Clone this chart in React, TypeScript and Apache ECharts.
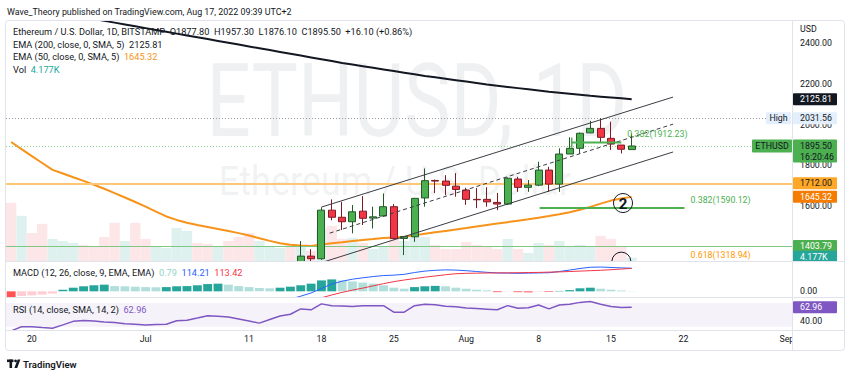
import React, { useEffect, useRef } from "react";
import * as echarts from "echarts";

const FONT = 'Roboto, "Noto Sans", "DejaVu Sans", sans-serif';
const INK = "#131722";

// ---------- categories (daily, crypto trades every day) ----------
const DATES = [
  "Jun 18","Jun 19","Jun 20","Jun 21","Jun 22","Jun 23","Jun 24","Jun 25","Jun 26","Jun 27","Jun 28","Jun 29","Jun 30",
  "Jul 1","Jul 2","Jul 3","Jul 4","Jul 5","Jul 6","Jul 7","Jul 8","Jul 9","Jul 10","Jul 11","Jul 12","Jul 13","Jul 14","Jul 15",
  "Jul 16","Jul 17","Jul 18","Jul 19","Jul 20","Jul 21","Jul 22","Jul 23","Jul 24","Jul 25","Jul 26","Jul 27","Jul 28","Jul 29","Jul 30","Jul 31",
  "Aug 1","Aug 2","Aug 3","Aug 4","Aug 5","Aug 6","Aug 7","Aug 8","Aug 9","Aug 10","Aug 11","Aug 12","Aug 13","Aug 14","Aug 15","Aug 16",
  "Aug 17","Aug 18","Aug 19","Aug 20","Aug 21","Aug 22","Aug 23","Aug 24","Aug 25","Aug 26","Aug 27","Aug 28","Aug 29","Aug 30","Aug 31",
  "Sep 1",
];
const TICK_LABELS: Record<string, string> = {
  "Jun 20": "20", "Jul 1": "Jul", "Jul 11": "11", "Jul 18": "18", "Jul 25": "25",
  "Aug 1": "Aug", "Aug 8": "8", "Aug 15": "15", "Aug 22": "22", "Sep 1": "Sep",
};

// ---------- price candles [open, close, low, high], from Jul 16 ----------
const FIRST_CANDLE = 28;
const CANDLES = [
  [1233, 1354, 1190, 1428],
  [1354, 1341, 1320, 1388],
  [1341, 1580, 1335, 1594],
  [1580, 1545, 1530, 1633],
  [1545, 1523, 1482, 1621],
  [1523, 1572, 1466, 1605],
  [1575, 1540, 1507, 1649],
  [1541, 1547, 1490, 1597],
  [1551, 1597, 1548, 1662],
  [1597, 1441, 1436, 1610],
  [1441, 1450, 1359, 1453],
  [1449, 1638, 1424, 1640],
  [1640, 1725, 1597, 1785],
  [1726, 1723, 1664, 1730],
  [1723, 1702, 1654, 1752],
  [1698, 1682, 1646, 1762],
  [1679, 1633, 1606, 1690],
  [1633, 1631, 1590, 1689],
  [1633, 1621, 1597, 1693],
  [1618, 1610, 1580, 1665],
  [1610, 1737, 1605, 1741],
  [1733, 1692, 1670, 1744],
  [1692, 1703, 1670, 1728],
  [1703, 1777, 1698, 1818],
  [1777, 1708, 1670, 1793],
  [1708, 1856, 1670, 1884],
  [1856, 1884, 1856, 1938],
  [1884, 1958, 1857, 1962],
  [1960, 1982, 1958, 2019],
  [1982, 1938, 1911, 2031.56],
  [1933, 1905, 1876, 2015],
  [1900, 1879.4, 1859, 1900],
  [1877.8, 1895.5, 1876.1, 1957.3],
];

// ---------- indicators ----------
const EMA200_FIRST = 8;
const EMA200 = [
  2520, 2511, 2502, 2493, 2484, 2475, 2466, 2457, 2448, 2439,
  2430, 2421, 2412, 2403, 2394, 2385, 2376, 2367, 2358, 2349,
  2340, 2331, 2322, 2313, 2304, 2296, 2288, 2280, 2272, 2264,
  2256, 2248, 2240, 2233, 2226, 2219, 2212, 2205, 2198, 2192,
  2186, 2180, 2174, 2168, 2162, 2157, 2152, 2147, 2142, 2138,
  2134, 2130, 2125.81,
];
const EMA50 = [
  1915, 1880, 1846, 1812, 1778, 1760, 1742, 1724, 1705, 1685,
  1664, 1642, 1620, 1597, 1573, 1549, 1532, 1518, 1507, 1497,
  1487, 1477, 1467, 1455, 1442, 1429, 1417, 1410, 1406, 1404,
  1411, 1417, 1422, 1428, 1433, 1438, 1443, 1446, 1449, 1456,
  1464, 1471, 1478, 1485, 1492, 1500, 1507, 1514, 1521, 1528,
  1535, 1543, 1551, 1560, 1570, 1582, 1596, 1612, 1627, 1637, 1645.32,
];
const VOLUME_K = [
  72.8, 56.5, 35.1, 46.4, 27.6, 25.1, 22.6, 20.1, 17.6, 30.1,
  47.7, 25.1, 47.7, 27.6, 17.6, 16.3, 41.4, 37.6, 22.6, 21.3,
  17.6, 25.1, 30.1, 35.1, 25.1, 18.8, 16.3, 20.1, 18.8, 12.5,
  40.2, 43.9, 27.6, 28.9, 22.6, 15.1, 18.8, 30.1, 25.1, 30.1,
  30.1, 20.1, 15.1, 15.1, 23.8, 20.1, 17.6, 15.1, 27.6, 15.1,
  10.0, 22.6, 20.1, 25.1, 18.8, 20.1, 17.6, 31.4, 27.6, 17.6, 4.177,
];
const VOLUME_UP = [
  0, 1, 0, 0, 1, 1, 1, 0, 0, 0,
  0, 1, 0, 0, 1, 1, 1, 1, 0, 0,
  1, 0, 0, 0, 1, 1, 1, 0, 1, 0,
  1, 0, 0, 1, 0, 1, 1, 0, 1, 1,
  1, 0, 0, 0, 0, 0, 0, 0, 1, 0,
  1, 1, 0, 1, 1, 1, 1, 0, 0, 0, 1,
];
const MACD_FIRST = 24;
const MACD_LINE = [
  -90, -70, -52, -38, -24, -8, 14, 36, 50, 60,
  67, 73, 78, 80, 84, 93, 100, 104, 106, 105,
  102, 98, 94, 91, 90, 89, 90, 91, 92, 98,
  105, 113, 119, 120, 118, 116, 114.21,
];
const SIGNAL_FIRST = 26;
const SIGNAL_LINE = [
  -80, -68, -58, -48, -32, -18, -5, 6, 16, 27,
  38, 48, 56, 63, 70, 76, 82, 87, 89, 90,
  90.5, 91, 91.5, 92, 93, 93.5, 95, 96, 98, 100,
  102, 104, 107, 110, 113.42,
];
const MACD_HIST = [
  -28, -23, -20, -16, -11, 8, 18, 25, 30, 33,
  26, 25, 23, 21, 20, 21, 25, 26, 30, 36,
  38, 33, 26, 21, 16, 15, 18, 23, 30, 38,
  54, 59, 54, 49, 43, 38, 30, 18, 13, 21,
  25, 27, 25, 18, 13, 8, 5, -4, -1, -4,
  -5, -2, -3, 2, 6, 15, 18, 13, 8, 4, 0.79,
];
const RSI = [
  23, 30, 30, 28.5, 27.5, 33, 39, 40.5, 39.5, 38,
  37, 35, 34, 33, 33.5, 34, 40, 41, 44.5, 48.5,
  47.5, 46.5, 43, 39.5, 36, 42, 48, 51, 60, 58.5,
  68.5, 65.5, 65, 64, 65.5, 65.5, 65.5, 54.5, 54.5, 65.5,
  68, 67, 64.5, 63.5, 61.5, 60.5, 59.5, 58.5, 65.5, 61,
  62, 66.5, 60, 66.5, 68, 71, 72.5, 68, 64, 62.5, 62.96,
];

// ---------- levels & drawings (day index, price) ----------
const HIGH_PRICE = 2031.56;
const LAST_CLOSE = 1895.5;
const EMA200_LAST = 2125.81;
const EMA50_LAST = 1645.32;
const LEVEL_ORANGE = 1712.0;
const LEVEL_GREEN = 1403.79;
const LAST_VOLUME_K = 4.177;
const RSI_LAST = 62.96;
const CHANNEL_UPPER = [[30, 1595], [64, 2136]];
const CHANNEL_MID = [[30.8, 1467], [64, 2003]];
const CHANNEL_LOWER = [[28, 1290], [64, 1866]];
const FIB_LEVELS = [
  { text: "0.382(1912.23)", price: 1912.23, from: 54.2, to: 59.0, color: "#4caf50", tick: true },
  { text: "0.382(1590.12)", price: 1590.12, from: 51.1, to: 65.1, color: "#4caf50", tick: false },
  { text: "0.618(1318.94)", price: 1318.94, from: 51.1, to: 65.1, color: "#ff9800", tick: false },
];
const WAVES = [
  { text: "2", day: 59.16, price: 1615 },
  { text: "", day: 59.0, price: 1327 },
];

const pad = (arr: any[], first: number, empty: any = "-") => Array(first).fill(empty).concat(arr);

function histColor(i: number) {
  const v = MACD_HIST[i];
  const p = i > 0 ? MACD_HIST[i - 1] : 0;
  if (v >= 0) return v >= p ? "#26a69a" : "#b2dfdb";
  return v <= p ? "#ff5252" : "#ffcdd2";
}

function buildOption() {
  const N = DATES.length;
  const hideAxis = { show: false };
  return {
    animation: false,
    textStyle: { fontFamily: FONT },
    grid: [
      { left: 6, right: 58, top: 21, height: 240 },
      { left: 6, right: 58, top: 262, height: 35 },
      { left: 6, right: 58, top: 298, height: 32 },
    ],
    xAxis: [
      { type: "category", gridIndex: 0, data: DATES, boundaryGap: true, show: false },
      { type: "value", gridIndex: 0, min: -0.5, max: N - 0.5, show: false },
      { type: "category", gridIndex: 1, data: DATES, boundaryGap: true, show: false },
      {
        type: "category", gridIndex: 2, data: DATES, boundaryGap: true,
        axisLine: { show: false }, axisTick: { show: false }, splitLine: { show: false },
        axisLabel: {
          interval: (_i: number, v: string) => v in TICK_LABELS,
          formatter: (v: string) => TICK_LABELS[v] || "",
          color: INK, fontSize: 8.8, margin: 4, fontFamily: FONT,
        },
      },
    ],
    yAxis: [
      {
        type: "value", gridIndex: 0, position: "right", min: 1330, max: 2510, scale: true,
        splitLine: { show: false }, axisLine: { show: false }, axisTick: { show: false },
        axisLabel: {
          formatter: (v: number) => (Math.abs(v % 200) < 1e-6 ? v.toFixed(2) : ""),
          color: INK, fontSize: 8.8, margin: 8, fontFamily: FONT,
        },
      },
      { type: "value", gridIndex: 0, min: 0, max: 300, ...hideAxis },
      { type: "value", gridIndex: 1, min: -28, max: 145, ...hideAxis },
      { type: "value", gridIndex: 2, min: 24.4, max: 78.4, ...hideAxis },
    ],
    series: [
      {
        type: "bar", xAxisIndex: 0, yAxisIndex: 1, barCategoryGap: "0%", z: 1, silent: true,
        data: VOLUME_K.map((v, i) => ({ value: v, itemStyle: { color: VOLUME_UP[i] ? "#dff1ef" : "#fde6e8" } })),
      },
      {
        type: "line", xAxisIndex: 0, yAxisIndex: 0, data: EMA50, symbol: "none", z: 3, silent: true,
        lineStyle: { color: "#f7931a", width: 2 },
        markLine: {
          silent: true, symbol: ["none", "none"], label: { show: false }, animation: false,
          data: [
            { yAxis: HIGH_PRICE, lineStyle: { color: "#9598a1", type: [1, 2], width: 1 } },
            { yAxis: LAST_CLOSE, lineStyle: { color: "#8fcf92", type: [1, 2], width: 1 } },
            { yAxis: LEVEL_ORANGE, lineStyle: { color: "#ffc773", type: "solid", width: 2 } },
            { yAxis: LEVEL_GREEN, lineStyle: { color: "#81c784", type: "solid", width: 1 } },
          ],
        },
      },
      {
        type: "line", xAxisIndex: 0, yAxisIndex: 0, data: pad(EMA200, EMA200_FIRST), symbol: "none", z: 3, silent: true,
        lineStyle: { color: INK, width: 2 },
      },
      {
        type: "candlestick", xAxisIndex: 0, yAxisIndex: 0, barWidth: 7.5, z: 5, silent: true, clip: true,
        data: pad(CANDLES, FIRST_CANDLE, ["-", "-", "-", "-"]),
        itemStyle: { color: "#4caf50", color0: "#f23645", borderColor: "#24592a", borderColor0: "#7d1c25", borderWidth: 1 },
      },
      {
        type: "line", xAxisIndex: 1, yAxisIndex: 0, data: CHANNEL_UPPER, symbol: "none", z: 6, silent: true,
        lineStyle: { color: "#3a3d45", width: 1 },
      },
      {
        type: "line", xAxisIndex: 1, yAxisIndex: 0, data: CHANNEL_MID, symbol: "none", z: 6, silent: true,
        lineStyle: { color: "#3a3d45", width: 1, type: [4, 3] },
      },
      {
        type: "line", xAxisIndex: 1, yAxisIndex: 0, data: CHANNEL_LOWER, symbol: "none", z: 6, silent: true,
        lineStyle: { color: "#3a3d45", width: 1 },
      },
      ...FIB_LEVELS.map((f) => ({
        type: "line", xAxisIndex: 1, yAxisIndex: 0, symbol: "none", z: 6, silent: true,
        data: [[f.from, f.price], [f.to, f.price]],
        lineStyle: { color: f.color, width: 2 },
      })),
      {
        type: "bar", xAxisIndex: 2, yAxisIndex: 2, barCategoryGap: "14%", silent: true, z: 10,
        data: MACD_HIST.map((v, i) => ({ value: v, itemStyle: { color: histColor(i) } })),
      },
      {
        type: "line", xAxisIndex: 2, yAxisIndex: 2, data: pad(MACD_LINE, MACD_FIRST), symbol: "none", silent: true, z: 11,
        lineStyle: { color: "#2962ff", width: 1 },
      },
      {
        type: "line", xAxisIndex: 2, yAxisIndex: 2, data: pad(SIGNAL_LINE, SIGNAL_FIRST), symbol: "none", silent: true, z: 11,
        lineStyle: { color: "#f23645", width: 1 },
      },
      {
        type: "line", xAxisIndex: 3, yAxisIndex: 3, data: RSI, symbol: "none", silent: true, z: 11,
        lineStyle: { color: "#7e57c2", width: 1.5 },
        markArea: {
          silent: true,
          itemStyle: { color: "rgba(126,87,194,0.08)" },
          data: [[{ yAxis: 30 }, { yAxis: 70 }]],
        },
      },
    ],
  };
}

function txt(x: number, y: number, text: string, o: any = {}) {
  return {
    type: "text", x, y, z: o.z ?? 80, silent: true,
    style: {
      text, fill: o.fill ?? INK, fontSize: o.size ?? 9.2, fontFamily: FONT,
      fontWeight: o.weight ?? "normal", align: o.align ?? "left", verticalAlign: "middle",
      rich: o.rich,
    },
  };
}
function rect(x: number, y: number, w: number, h: number, fill: string, z = 70, r = 0) {
  return { type: "rect", z, silent: true, shape: { x, y, width: w, height: h, r }, style: { fill } };
}
function hline(x1: number, x2: number, y: number, stroke = "#e0e3eb", z = 90) {
  return { type: "line", z, silent: true, shape: { x1, y1: y, x2, y2: y }, style: { stroke, lineWidth: 1 } };
}

function buildGraphics(chart: any) {
  const yP = (v: number) => chart.convertToPixel({ yAxisIndex: 0 }, v) as number;
  const yVol = (v: number) => chart.convertToPixel({ yAxisIndex: 1 }, v) as number;
  const yM = (v: number) => chart.convertToPixel({ yAxisIndex: 2 }, v) as number;
  const yR = (v: number) => chart.convertToPixel({ yAxisIndex: 3 }, v) as number;
  const xD = (d: number) => chart.convertToPixel({ xAxisIndex: 1 }, d) as number;

  const AX = 792.5;
  const AXF = 8.8;
  const g: any[] = [];

  // watermark
  g.push({ type: "text", z: 0, silent: true, x: 417, y: 101, scaleY: 1.3, originY: 0,
    style: { text: "ETHUSD, 1D", fill: "rgba(149,152,161,0.15)", fontSize: 78, fontFamily: FONT, align: "center", verticalAlign: "middle" } });
  g.push({ type: "text", z: 0, silent: true, x: 395, y: 181, scaleY: 1.12,
    style: { text: "Ethereum / U.S. Dollar", fill: "rgba(149,152,161,0.15)", fontSize: 36, fontFamily: FONT, align: "center", verticalAlign: "middle" } });

  // keep price marks that run past the main pane out of the MACD pane
  g.push(rect(6, 262, 786, 35, "#ffffff", 7));

  // header & frame
  g.push(txt(7, 12, "Wave_Theory published on TradingView.com, Aug 17, 2022 09:39 UTC+2", { size: 8.9 }));
  g.push({ type: "rect", z: 90, silent: true, shape: { x: 5.5, y: 20.5, width: 839, height: 330, r: 3 }, style: { fill: "none", stroke: "#e0e3eb", lineWidth: 1 } });
  g.push({ type: "line", z: 90, silent: true, shape: { x1: AX, y1: 20.5, x2: AX, y2: 350.5 }, style: { stroke: "#e0e3eb", lineWidth: 1 } });

  // legends
  g.push(txt(13, 31.5, "Ethereum / U.S. Dollar, 1D, BITSTAMP  O1877.80  H1957.30  L1876.10  C1895.50  +16.10 (+0.86%)"));
  g.push(txt(13, 44, `EMA (200, close, 0, SMA, 5)  ${EMA200_LAST.toFixed(2)}`));
  g.push(txt(13, 56.5, `EMA (50, close, 0, SMA, 5)  {o|${EMA50_LAST.toFixed(2)}}`, { rich: { o: { fill: "#f7931a", fontSize: 9.2, fontFamily: FONT } } }));
  g.push(txt(13, 69, `Vol  {v|${LAST_VOLUME_K.toFixed(3)}K}`, { rich: { v: { fill: "#26a69a", fontSize: 9.2, fontFamily: FONT } } }));
  g.push(txt(13, 272, `MACD (12, 26, close, 9, EMA, EMA)  {h|${MACD_HIST[MACD_HIST.length - 1].toFixed(2)}}  {b|${MACD_LINE[MACD_LINE.length - 1].toFixed(2)}}  {r|${SIGNAL_LINE[SIGNAL_LINE.length - 1].toFixed(2)}}`, {
    rich: {
      h: { fill: "#8fd3cb", fontSize: 9.2, fontFamily: FONT },
      b: { fill: "#2962ff", fontSize: 9.2, fontFamily: FONT },
      r: { fill: "#f23645", fontSize: 9.2, fontFamily: FONT },
    },
  }));
  g.push(txt(13, 309, `RSI (14, close, SMA, 14, 2)  {p|${RSI_LAST.toFixed(2)}}`, { rich: { p: { fill: "#7e57c2", fontSize: 9.2, fontFamily: FONT } } }));

  // fib labels, tick
  FIB_LEVELS.forEach((f) => {
    const y = yP(f.price);
    g.push(txt(xD(f.to) + 6, y - 8.5, f.text, { fill: f.color, z: 40, size: 8.8 }));
    if (f.tick) g.push({ type: "line", z: 40, silent: true, shape: { x1: xD(f.from), y1: y - 5, x2: xD(f.from), y2: y + 5 }, style: { stroke: f.color, lineWidth: 1.5 } });
  });

  // wave circles
  const paneBottom = yP(1330);
  WAVES.forEach((w) => {
    const cx = xD(w.day), cy = yP(w.price), r = 9.5;
    if (cy + r <= paneBottom) {
      g.push({ type: "circle", z: 40, silent: true, shape: { cx, cy, r }, style: { fill: "none", stroke: INK, lineWidth: 1 } });
      g.push({ type: "text", z: 41, silent: true, x: cx, y: cy + 0.5, style: { text: w.text, fill: INK, fontSize: 15, fontWeight: "bold", fontFamily: FONT, align: "center", verticalAlign: "middle" } });
    } else {
      const a = Math.asin(Math.max(-1, Math.min(1, (cy - paneBottom) / r)));
      g.push({ type: "arc", z: 40, silent: true, shape: { cx, cy, r, startAngle: Math.PI + a, endAngle: 2 * Math.PI - a }, style: { fill: "none", stroke: INK, lineWidth: 1 } });
    }
  });

  // price-axis labels
  const box = (y: number, text: string, bg: string, fg: string) => {
    g.push(rect(AX + 0.5, y - 6, 44, 12, bg, 70, 1));
    g.push(txt(800, y, text, { fill: fg, z: 71, size: AXF }));
  };
  g.push(txt(800, 29, "USD", { size: AXF }));
  box(yP(EMA200_LAST), EMA200_LAST.toFixed(2), INK, "#ffffff");
  // high
  const yH = yP(HIGH_PRICE);
  box(yH, HIGH_PRICE.toFixed(2), "#e3effd", INK);
  g.push(rect(766, yH - 6, 25, 12, "#e3effd", 70, 1));
  g.push(txt(778.5, yH, "High", { align: "center", z: 71, size: AXF }));
  // last close
  const yC = yP(LAST_CLOSE);
  g.push(rect(AX + 0.5, yC - 6.5, 44, 23, "#4caf50", 70, 1));
  g.push(txt(800, yC, LAST_CLOSE.toFixed(2), { z: 71, size: AXF }));
  g.push(txt(800, yC + 11, "16:20:46", { z: 71, size: AXF }));
  g.push(rect(752, yC - 6.5, 40, 13, "#4caf50", 70, 1));
  g.push(txt(772, yC, "ETHUSD", { align: "center", z: 71, size: AXF }));
  box(yP(LEVEL_ORANGE), LEVEL_ORANGE.toFixed(2), "#ffa726", INK);
  box(yP(EMA50_LAST), EMA50_LAST.toFixed(2), "#f57c00", "#ffffff");
  box(yP(LEVEL_GREEN), LEVEL_GREEN.toFixed(2), "#4caf50", "#ffffff");
  box(yVol(LAST_VOLUME_K) - 1, `${LAST_VOLUME_K.toFixed(3)}K`, "#26a69a", "#ffffff");
  g.push(rect(AX + 0.5, 261.5, 51, 9, "#ffffff", 75));

  // sub-pane labels
  g.push(txt(800, yM(0), "0.00", { size: AXF }));
  g.push(txt(800, yR(40), "40.00", { size: AXF }));
  g.push(rect(AX + 0.5, yR(RSI_LAST) - 6, 44, 12, "#7e57c2", 70, 1));
  g.push(txt(800, yR(RSI_LAST), RSI_LAST.toFixed(2), { fill: "#ffffff", z: 71, size: AXF }));

  // pane separators
  g.push(hline(5.5, 844.5, 261.5));
  g.push(hline(5.5, 844.5, 297.5));
  g.push(hline(5.5, 844.5, 330.5));
  // hide time label overflow into price-axis column
  g.push(rect(AX + 0.5, 331, 51, 19, "#ffffff", 85));

  // TradingView mark
  g.push(rect(7, 359.5, 6.5, 2.6, INK, 80));
  g.push(rect(9.5, 359.5, 2.6, 8.5, INK, 80));
  g.push({ type: "circle", z: 80, silent: true, shape: { cx: 15.6, cy: 360.9, r: 1.4 }, style: { fill: INK } });
  g.push({ type: "polygon", z: 80, silent: true, shape: { points: [[17.6, 359.5], [20.4, 359.5], [17.2, 368], [14.4, 368]] }, style: { fill: INK } });
  g.push(txt(23, 364, "TradingView", { size: 9.6, weight: 600 }));
  return g;
}

export default function App() {
  const ref = useRef<HTMLDivElement>(null);
  useEffect(() => {
    if (!ref.current) return;
    const chart = echarts.init(ref.current, null, { renderer: "svg" });
    chart.setOption(buildOption() as any);
    chart.setOption({ graphic: buildGraphics(chart) } as any);
    return () => chart.dispose();
  }, []);
  return (
    <div
      ref={ref}
      style={{ position: "fixed", left: 0, top: 0, width: 850, height: 377, background: "#ffffff" }}
    />
  );
}
